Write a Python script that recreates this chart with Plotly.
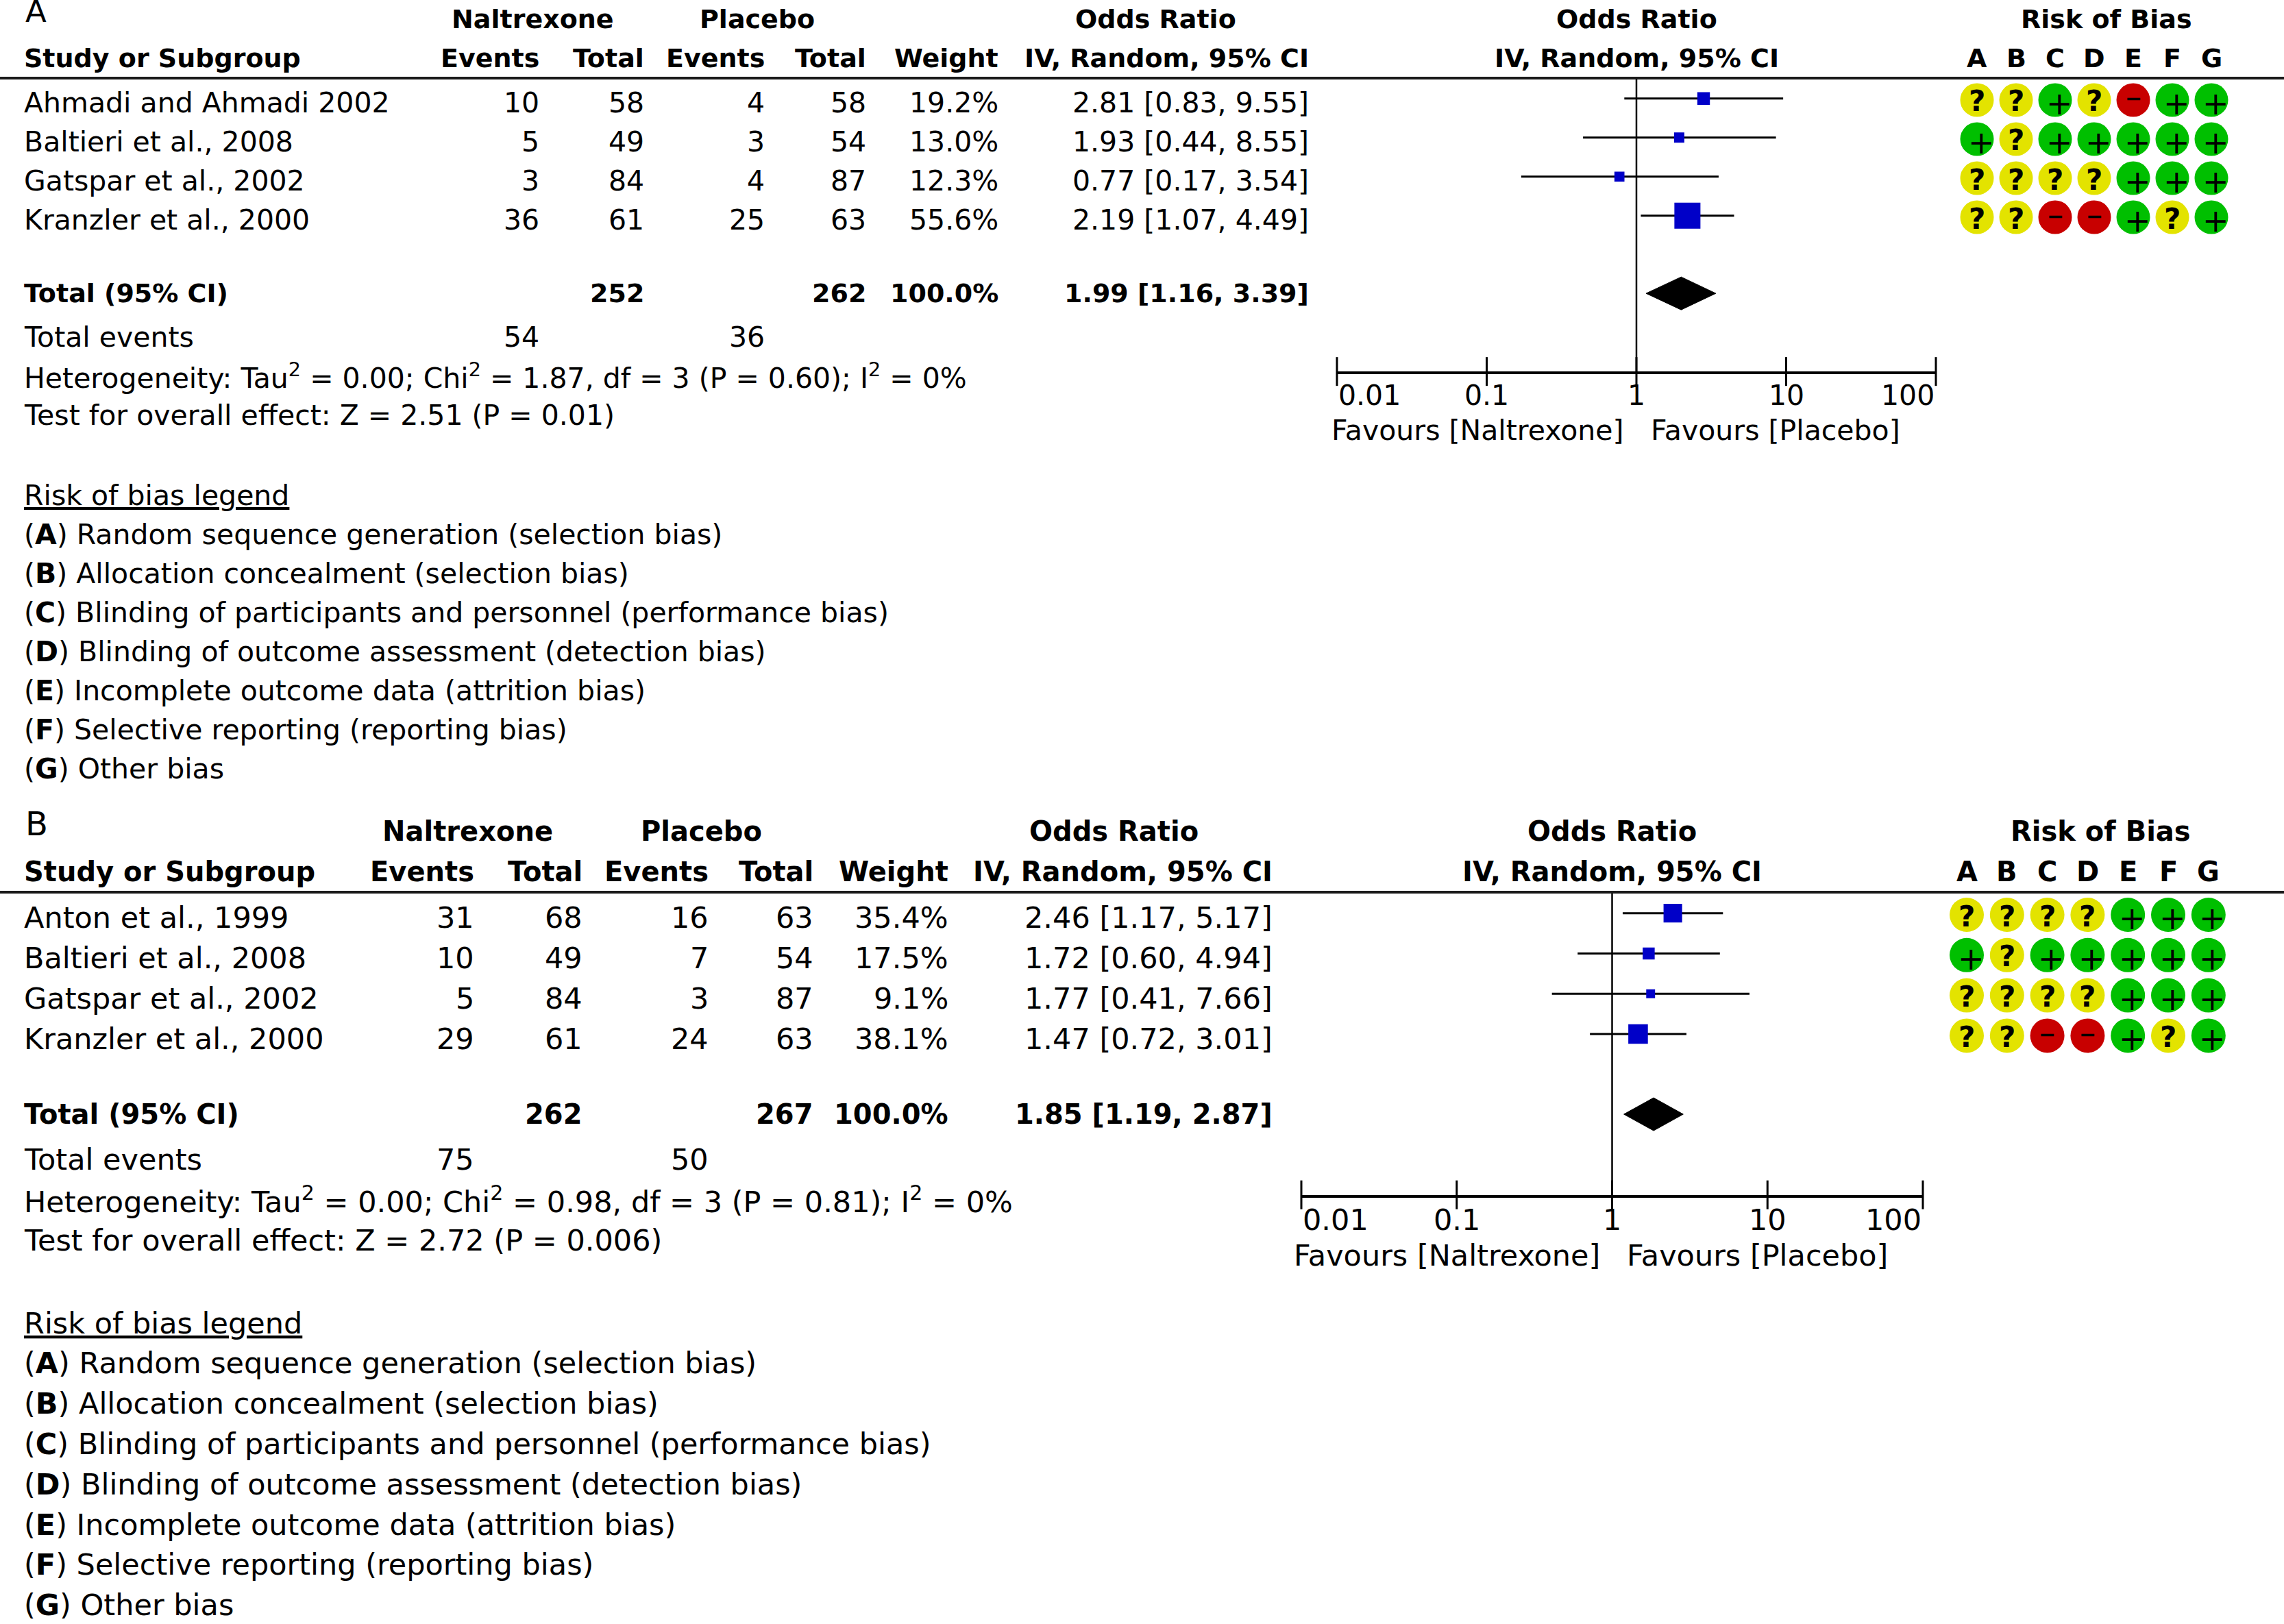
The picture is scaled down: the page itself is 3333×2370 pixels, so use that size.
import plotly.graph_objects as go
import numpy as np

W, H = 3333, 2370
FONT = "DejaVu Sans"

# ---- data ----
letters = ["A", "B", "C", "D", "E", "F", "G"]
bias_legend = [
    "Random sequence generation (selection bias)",
    "Allocation concealment (selection bias)",
    "Blinding of participants and personnel (performance bias)",
    "Blinding of outcome assessment (detection bias)",
    "Incomplete outcome data (attrition bias)",
    "Selective reporting (reporting bias)",
    "Other bias",
]
or_ticks = [0.01, 0.1, 1, 10, 100]
or_tick_text = ["0.01", "0.1", "1", "10", "100"]

studies_a = ["Ahmadi and Ahmadi 2002", "Baltieri et al., 2008", "Gatspar et al., 2002", "Kranzler et al., 2000"]
nal_events_a = [10, 5, 3, 36]
nal_total_a = [58, 49, 84, 61]
pla_events_a = [4, 3, 4, 25]
pla_total_a = [58, 54, 87, 63]
weight_a = [19.2, 13.0, 12.3, 55.6]
or_a = [2.81, 1.93, 0.77, 2.19]
lo_a = [0.83, 0.44, 0.17, 1.07]
hi_a = [9.55, 8.55, 3.54, 4.49]
pooled_a = [1.99, 1.16, 3.39]
sum_total_a = [252, 262]
sum_events_a = [54, 36]
het_a = "Heterogeneity: Tau<sup>2</sup> = 0.00; Chi<sup>2</sup> = 1.87, df = 3 (P = 0.60); I<sup>2</sup> = 0%"
test_a = "Test for overall effect: Z = 2.51 (P = 0.01)"
rob_a = [["?", "?", "+", "?", "-", "+", "+"],
         ["+", "?", "+", "+", "+", "+", "+"],
         ["?", "?", "?", "?", "+", "+", "+"],
         ["?", "?", "-", "-", "+", "?", "+"]]

studies_b = ["Anton et al., 1999", "Baltieri et al., 2008", "Gatspar et al., 2002", "Kranzler et al., 2000"]
nal_events_b = [31, 10, 5, 29]
nal_total_b = [68, 49, 84, 61]
pla_events_b = [16, 7, 3, 24]
pla_total_b = [63, 54, 87, 63]
weight_b = [35.4, 17.5, 9.1, 38.1]
or_b = [2.46, 1.72, 1.77, 1.47]
lo_b = [1.17, 0.60, 0.41, 0.72]
hi_b = [5.17, 4.94, 7.66, 3.01]
pooled_b = [1.85, 1.19, 2.87]
sum_total_b = [262, 267]
sum_events_b = [75, 50]
het_b = "Heterogeneity: Tau<sup>2</sup> = 0.00; Chi<sup>2</sup> = 0.98, df = 3 (P = 0.81); I<sup>2</sup> = 0%"
test_b = "Test for overall effect: Z = 2.72 (P = 0.006)"
rob_b = [["?", "?", "?", "?", "+", "+", "+"],
         ["+", "?", "+", "+", "+", "+", "+"],
         ["?", "?", "?", "?", "+", "+", "+"],
         ["?", "?", "-", "-", "+", "?", "+"]]

rob_colors = {"+": "#00BF00", "?": "#E3E300", "-": "#C80000"}
# glyph, bold, size, x/y nudge inside the dot
rob_glyph = {"+": ("+", False, 46, 6, -5), "?": ("?", True, 42, 0, -2), "-": ("\u2212", True, 30, 0, 2)}

panels = [
    dict(label="A", studies=studies_a, ne=nal_events_a, nt=nal_total_a, pe=pla_events_a, pt=pla_total_a,
         w=weight_a, orr=or_a, lo=lo_a, hi=hi_a, pooled=pooled_a, tot=sum_total_a, ev=sum_events_a,
         het=het_a, test=test_a, rob=rob_a),
    dict(label="B", studies=studies_b, ne=nal_events_b, nt=nal_total_b, pe=pla_events_b, pt=pla_total_b,
         w=weight_b, orr=or_b, lo=lo_b, hi=hi_b, pooled=pooled_b, tot=sum_total_b, ev=sum_events_b,
         het=het_b, test=test_b, rob=rob_b),
]

# layout geometry per panel (pixels)
geo = [
    dict(first=146, pitch=57.0, fs=41, fb=38, left=33, cols=[789, 942, 1118, 1266, 1459, 1912],
         nal_c=777, pla_c=1105, or_c=1686, forest=(1951, 2825), rob_x0=2856.5, rob_dx=57.0, rob_c=3074,
         dot=49, xf="x", xr="x2", yy="y"),
    dict(first=1335, pitch=58.8, fs=43, fb=40, left=33, cols=[694, 852, 1036, 1189, 1386, 1859],
         nal_c=682, pla_c=1023, or_c=1625, forest=(1899, 2806), rob_x0=2840.6, rob_dx=58.8, rob_c=3065,
         dot=50, xf="x3", xr="x4", yy="y2"),
]

fig = go.Figure()
annotations = []


def txt(x, y, s, anchor="left", size=41, bold=False, xref="paper", yref="paper", **kw):
    if bold:
        s = "<b>" + s + "</b>"
    font = dict(family=FONT, size=size, color="black")
    font.update(kw.pop("font", {}))
    annotations.append(dict(x=x, y=y, xref=xref, yref=yref, text=s, showarrow=False,
                            xanchor=anchor, yanchor="middle", font=font, **kw))


shapes = []
for p, g in zip(panels, geo):
    n = len(p["studies"])

    def yp(row, g=g):
        return 1 - (g["first"] + g["pitch"] * row) / H

    def xp(px):
        return px / W

    line_row, axis_row = -0.56, n + 2.95
    total_row = n + 0.95
    fs, fb = g["fs"], g["fb"]
    c = g["cols"]

    # header
    txt(xp(g["left"] + 2), yp(-2.27), p["label"], size=int(fs * 1.12))
    txt(xp(g["nal_c"]), yp(-2.07), "Naltrexone", "center", fb, True)
    txt(xp(g["pla_c"]), yp(-2.07), "Placebo", "center", fb, True)
    txt(xp(g["or_c"]), yp(-2.07), "Odds Ratio", "center", fb, True)
    txt(0, yp(-2.07), "Odds Ratio", "center", fb, True, xref=g["xf"])
    txt(xp(g["rob_c"]), yp(-2.07), "Risk of Bias", "center", fb, True)
    txt(xp(g["left"]), yp(-1.07), "Study or Subgroup", "left", fb, True)
    for px, h in zip(c, ["Events", "Total", "Events", "Total", "Weight", "IV, Random, 95% CI"]):
        txt(xp(px), yp(-1.07), h, "right", fb, True)
    txt(0, yp(-1.07), "IV, Random, 95% CI", "center", fb, True, xref=g["xf"])
    for L in letters:
        txt(L, yp(-1.07), L, "center", fb, True, xref=g["xr"])
    shapes.append(dict(type="line", xref="paper", yref="paper", x0=0, x1=1, y0=yp(line_row), y1=yp(line_row),
                       line=dict(color="#1a1a1a", width=4)))

    # study rows
    for i in range(n):
        r = i + 0.07
        txt(xp(g["left"]), yp(r), p["studies"][i], "left", fs)
        vals = [str(p["ne"][i]), str(p["nt"][i]), str(p["pe"][i]), str(p["pt"][i]),
                "%.1f%%" % p["w"][i], "%.2f [%.2f, %.2f]" % (p["orr"][i], p["lo"][i], p["hi"][i])]
        for px, v in zip(c, vals):
            txt(xp(px), yp(r), v, "right", fs)

    # totals
    txt(xp(g["left"]), yp(total_row), "Total (95% CI)", "left", fb, True)
    tv = [str(p["tot"][0]), str(p["tot"][1]), "100.0%", "%.2f [%.2f, %.2f]" % tuple(p["pooled"])]
    for px, v in zip([c[1], c[3], c[4], c[5]], tv):
        txt(xp(px), yp(total_row), v, "right", fb, True)
    txt(xp(g["left"]), yp(n + 2.07), "Total events", "left", fs)
    txt(xp(c[0]), yp(n + 2.07), str(p["ev"][0]), "right", fs)
    txt(xp(c[2]), yp(n + 2.07), str(p["ev"][1]), "right", fs)
    txt(xp(g["left"]), yp(n + 3.07), p["het"], "left", fs)
    txt(xp(g["left"]), yp(n + 4.07), p["test"], "left", fs)

    # axis labels of forest plot
    for v, t, a in zip(or_ticks, or_tick_text, ["left", "center", "center", "center", "right"]):
        txt(np.log10(v), yp(n + 3.56), t, a, fs, xref=g["xf"])
    txt(0, yp(n + 4.45), "Favours [Naltrexone]", "right", fs, xref=g["xf"], xshift=-16)
    txt(0, yp(n + 4.45), "Favours [Placebo]", "left", fs, xref=g["xf"], xshift=19)

    # risk of bias legend
    txt(xp(g["left"]), yp(n + 6.13), "Risk of bias legend", "left", fs, font=dict(lineposition="under"))
    for k, (L, s) in enumerate(zip(letters, bias_legend)):
        txt(xp(g["left"]), yp(n + 7.13 + k), "(<b>%s</b>) %s" % (L, s), "left", fs)

    # forest plot: line of no effect
    fig.add_trace(go.Scatter(
        x=[1, 1], y=[line_row, axis_row], xaxis=g["xf"], yaxis=g["yy"], mode="lines",
        line=dict(color="black", width=2.5), cliponaxis=False, showlegend=False, hoverinfo="skip"))
    # confidence intervals
    wx, wy = [], []
    for i in range(n):
        wx += [p["lo"][i], p["hi"][i], None]
        wy += [i - 0.04, i - 0.04, None]
    fig.add_trace(go.Scatter(
        x=wx, y=wy, xaxis=g["xf"], yaxis=g["yy"], mode="lines",
        line=dict(color="black", width=3), showlegend=False, hoverinfo="skip"))
    # study estimates
    fig.add_trace(go.Scatter(
        x=p["orr"], y=[i - 0.04 for i in range(n)], xaxis=g["xf"], yaxis=g["yy"], mode="markers",
        marker=dict(symbol="square", color="#0000C8", opacity=1,
                    size=[8 + 0.54 * w for w in p["w"]], line=dict(width=0)),
        showlegend=False, hoverinfo="skip"))
    # pooled diamond
    o, l, h = p["pooled"]
    dh = 24 / g["pitch"]
    fig.add_trace(go.Scatter(
        x=[l, o, h, o, l], y=[total_row, total_row - dh, total_row, total_row + dh, total_row],
        xaxis=g["xf"], yaxis=g["yy"], mode="lines", fill="toself", fillcolor="black",
        line=dict(color="black", width=1), showlegend=False, hoverinfo="skip"))
    # crossing tick marks on the OR axis
    fig.add_trace(go.Scatter(
        x=or_ticks, y=[axis_row] * len(or_ticks), xaxis=g["xf"], yaxis=g["yy"], mode="markers",
        marker=dict(symbol="line-ns", size=30, line=dict(color="black", width=3)),
        cliponaxis=False, showlegend=False, hoverinfo="skip"))

    # risk of bias dots
    rx, ry, rc = [], [], []
    for i in range(n):
        for L, v in zip(letters, p["rob"][i]):
            rx.append(L)
            ry.append(i)
            rc.append(rob_colors[v])
            gl, bb, sz, dx, dy = rob_glyph[v]
            txt(L, yp(i), gl, "center", sz, bb, xref=g["xr"], xshift=dx, yshift=dy)
    fig.add_trace(go.Scatter(
        x=rx, y=ry, xaxis=g["xr"], yaxis=g["yy"], mode="markers",
        marker=dict(size=g["dot"], color=rc, line=dict(width=0)),
        cliponaxis=False, showlegend=False, hoverinfo="skip"))

    yname = "yaxis" if g["yy"] == "y" else "yaxis2"
    fname = "xaxis" if g["xf"] == "x" else "xaxis3"
    rname = "xaxis2" if g["xr"] == "x2" else "xaxis4"
    fig.layout[yname] = dict(domain=[yp(axis_row), yp(line_row)], range=[axis_row, line_row],
                             visible=False, fixedrange=True)
    fig.layout[fname] = dict(type="log", range=[-2, 2], domain=[xp(g["forest"][0]), xp(g["forest"][1])],
                             anchor=g["yy"], showline=True, linecolor="black", linewidth=4,
                             ticks="", showticklabels=False, showgrid=False, zeroline=False)
    fig.layout[rname] = dict(type="category", categoryorder="array", categoryarray=letters,
                             range=[-0.5, len(letters) - 0.5],
                             domain=[xp(g["rob_x0"]), xp(g["rob_x0"] + g["rob_dx"] * len(letters))],
                             anchor=g["yy"], visible=False)

fig.update_layout(
    width=W, height=H,
    margin=dict(l=0, r=0, t=0, b=0),
    paper_bgcolor="white", plot_bgcolor="white",
    font=dict(family=FONT, size=41, color="black"),
    annotations=annotations,
    shapes=shapes,
    showlegend=False,
)

fig.write_html("out.html", config={"displayModeBar": False},
               post_script="document.body.style.margin='0px';")
